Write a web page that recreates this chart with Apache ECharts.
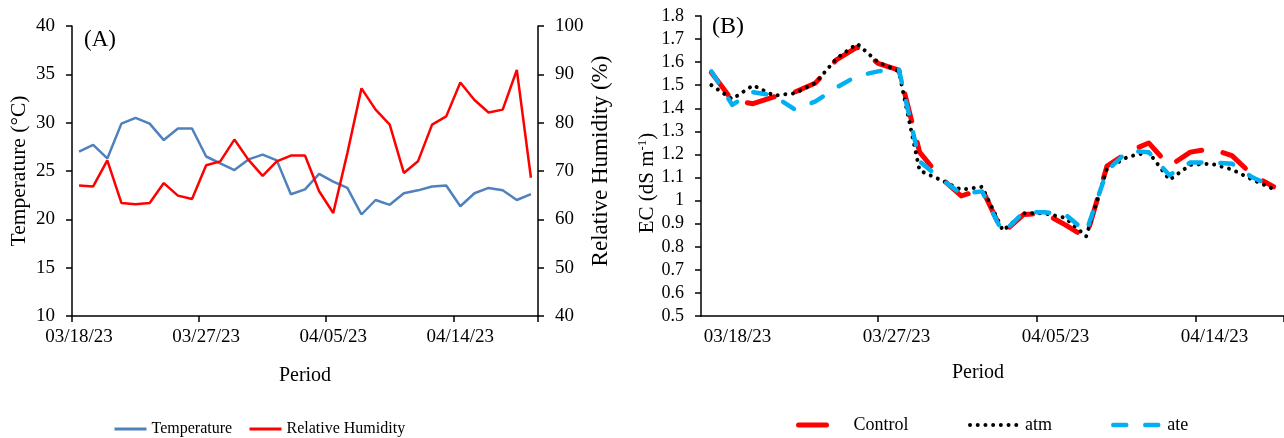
<!DOCTYPE html>
<html><head><meta charset="utf-8">
<script src="https://cdn.jsdelivr.net/npm/echarts@6/dist/echarts.min.js"></script>
<style>html,body{margin:0;padding:0;background:#fff}#c{width:1284px;height:438px}</style>
</head><body><div id="c"></div>
<script>
// ---- Panel A: daily weather (03/18/23 - 04/19/23)
const datesA = ['03/18/23','03/19/23','03/20/23','03/21/23','03/22/23','03/23/23','03/24/23','03/25/23','03/26/23','03/27/23','03/28/23','03/29/23','03/30/23','03/31/23','04/01/23','04/02/23','04/03/23','04/04/23','04/05/23','04/06/23','04/07/23','04/08/23','04/09/23','04/10/23','04/11/23','04/12/23','04/13/23','04/14/23','04/15/23','04/16/23','04/17/23','04/18/23','04/19/23'];
const temperature = [27.0, 27.7, 26.3, 29.9, 30.5, 29.9, 28.2, 29.4, 29.4, 26.5, 25.8, 25.1, 26.2, 26.7, 26.1, 22.6, 23.1, 24.7, 23.9, 23.25, 20.5, 22.0, 21.5, 22.7, 23.0, 23.4, 23.5, 21.35, 22.7, 23.25, 23.0, 22.0, 22.6];
const humidity = [67.0, 66.8, 72.2, 63.4, 63.1, 63.4, 67.5, 64.9, 64.2, 71.2, 72.0, 76.5, 72.3, 69.0, 72.0, 73.2, 73.2, 65.8, 61.3, 73.7, 87.1, 82.7, 79.6, 69.6, 72.0, 79.6, 81.3, 88.3, 84.7, 82.1, 82.7, 90.9, 68.6];

// ---- Panel B: EC measurements
const datesB = ['03/17/23','03/18/23','03/19/23','03/20/23','03/21/23','03/22/23','03/23/23','03/24/23','03/25/23','03/26/23','03/27/23','03/28/23','03/29/23','03/30/23','03/31/23','04/01/23','04/02/23','04/03/23','04/04/23','04/05/23','04/06/23','04/07/23','04/08/23','04/09/23','04/10/23','04/11/23','04/12/23','04/13/23','04/14/23','04/15/23','04/16/23','04/17/23','04/18/23'];
const samplesB = ['1','2','3','4','5','6','7','8','9','10','11','12','13','14','15','16','17','18','19','20','21','22','23','24','25','26','27','28'];
const ecControl = [1.555, 1.435, 1.42, 1.45, 1.47, 1.51, 1.61, 1.665, 1.595, 1.565, 1.21, 1.10, 1.02, 1.05, 0.86, 0.94, 0.945, 0.895, 0.84, 1.15, 1.21, 1.25, 1.15, 1.21, 1.225, 1.195, 1.11, 1.06];
const ecAtm = [1.50, 1.44, 1.50, 1.455, 1.465, 1.51, 1.615, 1.68, 1.60, 1.56, 1.13, 1.09, 1.047, 1.06, 0.87, 0.945, 0.945, 0.925, 0.845, 1.14, 1.19, 1.21, 1.09, 1.155, 1.16, 1.135, 1.09, 1.05];
const ecAte = [1.56, 1.415, 1.47, 1.455, 1.395, 1.43, 1.49, 1.54, 1.56, 1.57, 1.17, 1.095, 1.03, 1.04, 0.86, 0.95, 0.95, 0.94, 0.865, 1.13, 1.215, 1.21, 1.11, 1.165, 1.165, 1.16, 1.10, 1.06];

const FONT = 'Liberation Serif';
const BLACK = '#000';
const chart = echarts.init(document.getElementById('c'), null, {renderer: 'canvas'});
const axLine = {show: true, onZero: false, lineStyle: {color: BLACK, width: 1.5}};
const tick = (extra) => Object.assign({show: true, length: 6, inside: false, lineStyle: {color: BLACK, width: 1.5}}, extra || {});
const lbl = (extra) => Object.assign({color: BLACK, fontFamily: FONT, fontSize: 19}, extra || {});
const nameStyle = (extra) => Object.assign({color: BLACK, fontFamily: FONT, fontSize: 20}, extra || {});
const hiddenSymbol = {opacity: 0};

const option = {
  animation: false,
  backgroundColor: '#fff',
  textStyle: {fontFamily: FONT},
  title: [
    {text: '(A)', left: 84, top: 28, padding: 0, textStyle: {fontFamily: FONT, fontWeight: 'normal', fontSize: 23, color: BLACK}},
    {text: '(B)', left: 712, top: 15, padding: 0, textStyle: {fontFamily: FONT, fontWeight: 'normal', fontSize: 24, color: BLACK}}
  ],
  grid: [
    {left: 72, right: 746, top: 26, bottom: 122},
    {left: 701, right: 0, top: 16, bottom: 122}
  ],
  xAxis: [
    {type: 'category', gridIndex: 0, data: datesA, boundaryGap: true,
     axisLine: axLine, axisTick: tick({interval: 8}),
     axisLabel: lbl({interval: 8, margin: 12}),
     name: 'Period', nameLocation: 'middle', nameGap: 50, nameTextStyle: nameStyle()},
    {type: 'category', gridIndex: 1, data: datesB, boundaryGap: true,
     axisLine: axLine,
     axisTick: tick({interval: function (i) { return i === 10 || i === 19 || i === 28; }}),
     axisLabel: lbl({interval: function (i) { return i % 9 === 1; }, margin: 12, padding: [0, 0, 0, 20]}),
     name: 'Period', nameLocation: 'middle', nameGap: 47, nameTextStyle: nameStyle({padding: [0, 29, 0, 0]})},
    {type: 'category', gridIndex: 1, data: samplesB, boundaryGap: true, show: false}
  ],
  yAxis: [
    {type: 'value', gridIndex: 0, position: 'left', min: 10, max: 40, interval: 5,
     splitLine: {show: false}, axisLine: axLine, axisTick: tick(), axisLabel: lbl({margin: 17}),
     name: 'Temperature (°C)', nameLocation: 'middle', nameRotate: 90, nameGap: 42, nameTextStyle: nameStyle({fontSize: 21.5})},
    {type: 'value', gridIndex: 0, position: 'right', min: 40, max: 100, interval: 10,
     splitLine: {show: false}, axisLine: axLine, axisTick: tick(), axisLabel: lbl({margin: 17}),
     name: 'Relative Humidity (%)', nameLocation: 'middle', nameRotate: 90, nameGap: 51,
     nameTextStyle: nameStyle({fontSize: 23, padding: [0, 0, 0, 20]})},
    {type: 'value', gridIndex: 1, position: 'left', min: 0.5, max: 1.8, interval: 0.1,
     splitLine: {show: false}, axisLine: axLine, axisTick: tick(),
     axisLabel: lbl({margin: 17, fontSize: 18, formatter: function (v) { return String(parseFloat(v.toFixed(1))); }}),
     name: 'EC (dS m{sup|-1})', nameLocation: 'middle', nameRotate: 90, nameGap: 41,
     nameTextStyle: nameStyle({fontSize: 21, padding: [0, 34, 0, 0], rich: {sup: {fontFamily: FONT, fontSize: 13, color: BLACK, padding: [0, 0, 9, 0]}}})}
  ],
  legend: [
    {data: ['Temperature'], left: 113, top: 421, itemWidth: 32, itemHeight: 14, padding: 0, itemStyle: hiddenSymbol,
     lineStyle: {width: 3}, textStyle: {fontFamily: FONT, fontSize: 16, color: BLACK}},
    {data: ['Relative Humidity'], left: 248, top: 421, itemWidth: 32, itemHeight: 14, padding: 0, itemStyle: hiddenSymbol,
     lineStyle: {width: 3}, textStyle: {fontFamily: FONT, fontSize: 16, color: BLACK}},
    {data: ['Control'], left: 796, top: 416, itemWidth: 36, itemHeight: 14, padding: 0, itemStyle: hiddenSymbol,
     lineStyle: {width: 5}, textStyle: {fontFamily: FONT, fontSize: 18, color: BLACK, padding: [0, 0, 0, 14]}},
    {data: ['atm'], left: 968, top: 416, itemWidth: 50, itemHeight: 14, padding: 0, itemStyle: hiddenSymbol,
     lineStyle: {width: 4}, textStyle: {fontFamily: FONT, fontSize: 18, color: BLACK}},
    {data: ['ate'], left: 1111, top: 416, itemWidth: 49, itemHeight: 14, padding: 0, itemStyle: hiddenSymbol,
     lineStyle: {width: 4.5}, textStyle: {fontFamily: FONT, fontSize: 18, color: BLACK}}
  ],
  series: [
    {name: 'Temperature', type: 'line', xAxisIndex: 0, yAxisIndex: 0, data: temperature,
     symbol: 'none', lineStyle: {color: '#4F81BD', width: 2.5}, itemStyle: {color: '#4F81BD'}},
    {name: 'Relative Humidity', type: 'line', xAxisIndex: 0, yAxisIndex: 1, data: humidity,
     symbol: 'none', lineStyle: {color: '#FF0000', width: 2.5}, itemStyle: {color: '#FF0000'}},
    {name: 'Control', type: 'line', xAxisIndex: 2, yAxisIndex: 2, data: ecControl,
     symbol: 'none', lineStyle: {color: '#FF0000', width: 5, type: [28, 22], cap: 'round', join: 'round'}, itemStyle: {color: '#FF0000'}},
    {name: 'atm', type: 'line', xAxisIndex: 2, yAxisIndex: 2, data: ecAtm,
     symbol: 'none', lineStyle: {color: '#000000', width: 4, type: [0.01, 7.7], cap: 'round', join: 'round'}, itemStyle: {color: '#000000'}},
    {name: 'ate', type: 'line', xAxisIndex: 2, yAxisIndex: 2, data: ecAte,
     symbol: 'none', lineStyle: {color: '#00B0F0', width: 4.5, type: [13, 19], cap: 'round', join: 'round'}, itemStyle: {color: '#00B0F0'}}
  ]
};
chart.setOption(option);
</script>
</body></html>
